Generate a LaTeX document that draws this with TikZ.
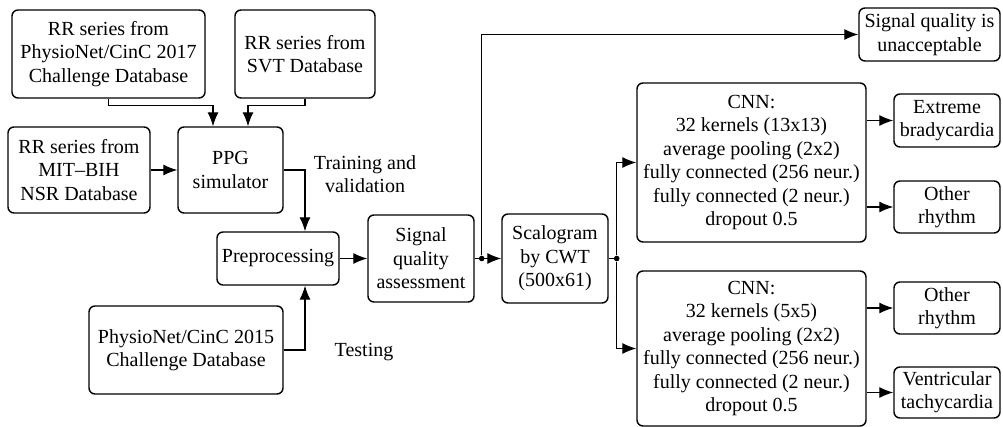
\documentclass[tikz,border=0pt]{standalone}
\usepackage{fontspec}
\setmainfont{Liberation Serif}
\usetikzlibrary{arrows.meta}
\tikzset{
  blk/.style={draw, rounded corners=3pt, align=center, inner sep=0pt, line width=0.7pt},
  wh/.style 2 args={minimum width=#1*0.5pt, minimum height=#2*0.5pt},
  arr/.style={-{Latex[length=7pt,width=5.5pt]}, line width=0.6pt},
  dot/.style={circle, fill, inner sep=0pt, minimum size=2.8pt}
}

\begin{document}
\begin{tikzpicture}[x=0.5pt, y=-0.5pt, font=\fontsize{10}{11.7}\selectfont]
      \useasboundingbox (0,0) rectangle (1003,427);
      % input databases
      \node[blk, wh={193}{88}] (rr17) at (108.5,54) {RR series from\\PhysioNet/CinC 2017\\Challenge Database};
      \node[blk, wh={140}{88}] (svt) at (305,54) {RR series from\\SVT Database};
      \node[blk, wh={142}{86}] (mit) at (79,170) {RR series from\\MIT--BIH\\NSR Database};
      \node[blk, wh={105}{86}] (ppg) at (230.5,170) {PPG\\simulator};
      \node[blk, wh={122}{53}] (pre) at (278,258.5) {Preprocessing};
      \node[blk, wh={194}{88}] (cinc15) at (186,350) {PhysioNet/CinC 2015\\Challenge Database};
      \node[align=center] (train) at (365,174) {Training and\\validation};
      \node[align=center] (test) at (364,352) {Testing};
      % processing chain
      \node[blk, wh={106}{87}] (sqa) at (421,258.5) {Signal\\quality\\assessment};
      \node[blk, wh={106}{89}] (scal) at (555,258.5) {Scalogram\\by CWT\\(500x61)};
      \node[blk, wh={229}{159}] (cnnA) at (751.5,162.5) {CNN:\\32 kernels (13x13)\\average pooling (2x2)\\fully connected (256 neur.)\\fully connected (2 neur.)\\dropout 0.5};
      \node[blk, wh={229}{155}] (cnnB) at (751.5,348.5) {CNN:\\32 kernels (5x5)\\average pooling (2x2)\\fully connected (256 neur.)\\fully connected (2 neur.)\\dropout 0.5};
      % outputs
      \node[blk, wh={141}{53}] (unacc) at (929.5,34.5) {Signal quality is\\unacceptable};
      \node[blk, wh={106}{53}] (brady) at (947,120.5) {Extreme\\bradycardia};
      \node[blk, wh={106}{52}] (othA) at (947,207) {Other\\rhythm};
      \node[blk, wh={106}{52}] (othB) at (947,308) {Other\\rhythm};
      \node[blk, wh={106}{51}] (vt) at (947,392.5) {Ventricular\\tachycardia};
      % connections
      \draw[arr] (rr17.south) -- ++(0,7) -| ([xshift=-8.75pt]ppg.north);
      \draw[arr] (svt.south) -- ++(0,7) -| ([xshift=8.75pt]ppg.north);
      \draw[arr] (mit) -- (ppg);
      \draw[arr] (ppg.east) -| ([xshift=13.5pt]pre.north);
      \draw[arr] (cinc15.east) -| ([xshift=13.5pt]pre.south);
      \draw[arr] (pre) -- (sqa);
      \node[dot] (j1) at ([xshift=3.5pt]sqa.east) {};
      \draw[arr] (sqa) -- (scal);
      \draw[arr] (j1) |- (unacc);
      \node[dot] (j2) at ([xshift=4pt]scal.east) {};
      \draw[line width=0.6pt] (scal.east) -- (j2);
      \draw[arr] (j2) |- (cnnA.west);
      \draw[arr] (j2) |- (cnnB.west);
      \draw[arr] (cnnA.east |- brady) -- (brady);
      \draw[arr] (cnnA.east |- othA) -- (othA);
      \draw[arr] (cnnB.east |- othB) -- (othB);
      \draw[arr] (cnnB.east |- vt) -- (vt);
    \end{tikzpicture}
\end{document}
